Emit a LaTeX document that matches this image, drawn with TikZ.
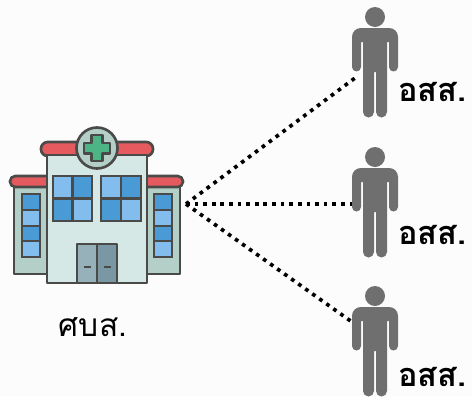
\documentclass[tikz,border=0pt]{standalone}
\usepackage{fontspec}
\usepackage{xcolor}
\usetikzlibrary{arrows,shapes,positioning,calc}
\newfontfamily\thaifont[Script=Thai]{Loma}
\definecolor{outlinegray}{HTML}{4A4A48}
\definecolor{wallpale}{HTML}{D5E8E5}
\definecolor{wallside}{HTML}{B3CFC8}
\definecolor{roofred}{HTML}{E45A5E}
\definecolor{glasslight}{HTML}{82BDEE}
\definecolor{glassdark}{HTML}{4A9AD6}
\definecolor{crossgreen}{HTML}{4DB585}
\definecolor{doorlight}{HTML}{97B1BA}
\definecolor{doordark}{HTML}{7A98A3}
\definecolor{persongray}{HTML}{6F6F6F}
\tikzset{
  part/.style={draw=outlinegray,line width=1.5pt,line join=round},
  pane/.style={draw=outlinegray,line width=1.3pt},
  dotline/.style={line width=2.1pt,dash pattern=on 2.1pt off 2.8pt,black},
  staff/.style={font=\thaifont\bfseries\fontsize{18.5}{18.5}\selectfont,inner sep=0pt,anchor=west},
  place/.style={font=\thaifont\fontsize{18}{18}\selectfont,inner sep=0pt},
  pics/figure/.style={code={
    \fill[persongray] (0,0) circle (10);
    \fill[persongray,rounded corners=5pt] (-23,11) -- (23,11) -- (23,30) [sharp corners] -- (23,50)
      arc (0:180:4.5) -- (14,25) -- (12,25) -- (12,95) arc (0:180:5.5) -- (1,55) -- (-1,55) -- (-1,95)
      arc (0:180:5.5) -- (-12,25) -- (-14,25) -- (-14,50) arc (0:180:4.5) -- (-23,30) [rounded corners=5pt] -- cycle;
  }}
}
\begin{document}
\begin{tikzpicture}[x=0.02cm,y=-0.02cm]
\fill[white!99!black] (0,0) rectangle (472,396);
\useasboundingbox (0,0) rectangle (472,396);
% Side wings
\draw[part,fill=wallside] (14,187) rectangle (47,274);
\draw[part,fill=wallside] (147,187) rectangle (180,274);
\draw[part,fill=roofred,rounded corners=3pt] (10,176) rectangle (60,187);
\draw[part,fill=roofred,rounded corners=3pt] (134,176) rectangle (183,187);
% Strip windows
\draw[pane,fill=glassdark] (22,194) rectangle (40,210);
\draw[pane,fill=glasslight] (22,210) rectangle (40,226);
\draw[pane,fill=glassdark] (22,226) rectangle (40,241);
\draw[pane,fill=glasslight] (22,241) rectangle (40,257);
\draw[pane,fill=glassdark] (154,194) rectangle (172,210);
\draw[pane,fill=glasslight] (154,210) rectangle (172,226);
\draw[pane,fill=glassdark] (154,226) rectangle (172,241);
\draw[pane,fill=glasslight] (154,241) rectangle (172,257);
% Main block
\draw[part,fill=roofred,rounded corners=3.8pt] (41,142) rectangle (153,156);
\draw[part,fill=wallpale] (47,155) rectangle (147,283);
% Upper windows
\draw[pane,fill=glasslight] (53,176) rectangle (72.5,198.5);
\draw[pane,fill=glassdark] (72.5,176) rectangle (92,198.5);
\draw[pane,fill=glassdark] (53,198.5) rectangle (72.5,221);
\draw[pane,fill=glasslight] (72.5,198.5) rectangle (92,221);
\draw[pane,fill=glasslight] (101,176) rectangle (121,198.5);
\draw[pane,fill=glassdark] (121,176) rectangle (141,198.5);
\draw[pane,fill=glassdark] (101,198.5) rectangle (121,221);
\draw[pane,fill=glasslight] (121,198.5) rectangle (141,221);
% Door
\draw[part,fill=doorlight] (77,244) rectangle (97,283);
\draw[part,fill=doordark] (97,244) rectangle (117,283);
\draw[pane] (83.5,267) -- (90.5,267);
\draw[pane] (103.5,267) -- (110.5,267);
% Sign with cross
\draw[part,fill=wallside] (97,148) circle (20.5);
\draw[part,fill=crossgreen] (91.5,135) -- (102.5,135) -- (102.5,143) -- (110,143) -- (110,153.5) -- (102.5,153.5)
  -- (102.5,161) -- (91.5,161) -- (91.5,153.5) -- (84,153.5) -- (84,143) -- (91.5,143) -- cycle;
\node[place] (hospital) at (93,327) {ศบส.};
% Staff
\pic at (375,17) {figure};
\pic at (375,157) {figure};
\pic at (375,296) {figure};
\coordinate (hub) at (186,204);
\coordinate (staffa) at (355,78);
\coordinate (staffb) at (352,204);
\coordinate (staffc) at (352,322);
\draw[dotline] (hub) -- (staffa);
\draw[dotline] (hub) -- (staffb);
\draw[dotline] (hub) -- (staffc);
\node[staff] (labela) at (398,92) {อสส.};
\node[staff] (labelb) at (398,235) {อสส.};
\node[staff] (labelc) at (398,377) {อสส.};
\end{tikzpicture}
\end{document}
